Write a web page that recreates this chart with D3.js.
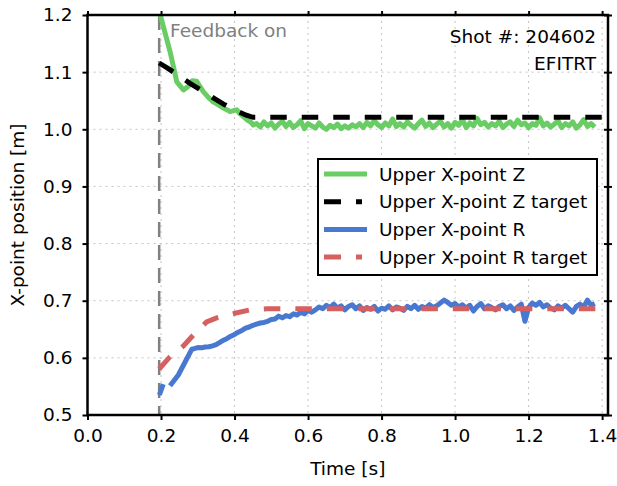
<!DOCTYPE html>
<html><head><meta charset="utf-8">
<script src="https://cdn.jsdelivr.net/npm/d3@7"></script>
<style>body{margin:0;background:#fff}svg text{font-family:"DejaVu Sans",sans-serif;}</style>
</head><body><svg id="c" width="617" height="486"></svg>
<script>
const xTicks = [0.0,0.2,0.4,0.6,0.8,1.0,1.2,1.4];
const yTicks = [0.5,0.6,0.7,0.8,0.9,1.0,1.1,1.2];
const feedbackOn = 0.195;
const seriesNames = ["Upper X-point Z","Upper X-point Z target","Upper X-point R","Upper X-point R target"];
const annotations = ["Shot #: 204602","EFITRT"];

// Upper X-point Z (measured)
const zTime = [0.196,0.2245,0.243,0.261,0.274,0.285,0.297,0.315,0.33,0.342,0.355,0.37,0.388,0.40,0.406,0.415,0.424,0.435,0.445,0.451,
0.46,0.47,0.48,0.49,0.50,0.51,0.52,0.53,0.54,0.55,0.56,0.57,0.58,0.59,0.60,0.61,0.62,0.63,0.64,0.65,0.66,0.67,0.68,0.69,0.70,
0.71,0.72,0.73,0.74,0.75,0.76,0.77,0.78,0.79,0.80,0.81,0.82,0.83,0.84,0.85,0.86,0.87,0.88,0.89,0.90,0.91,0.92,0.93,0.94,0.95,
0.96,0.97,0.98,0.99,1.00,1.01,1.02,1.03,1.04,1.05,1.06,1.07,1.08,1.09,1.10,1.11,1.12,1.13,1.14,1.15,1.16,1.17,1.18,1.19,1.20,
1.21,1.22,1.23,1.24,1.25,1.26,1.27,1.28,1.29,1.30,1.31,1.32,1.33,1.34,1.35,1.36,1.37,1.38];
const zValue = [1.205,1.136,1.083,1.069,1.075,1.085,1.084,1.066,1.055,1.048,1.043,1.037,1.031,1.033,1.034,1.027,1.022,1.016,1.012,1.0075,
1.010,1.004,1.013,1.006,1.011,1.002,1.009,1.014,1.005,1.012,1.003,1.008,1.015,1.001,1.010,1.006,1.002,1.011,1.004,1.000,1.007,1.003,1.009,1.001,1.006,
1.002,1.008,1.004,1.010,1.003,1.012,1.006,1.015,1.008,1.003,1.011,1.006,1.018,1.005,1.010,1.004,1.013,1.007,1.002,1.010,1.016,1.005,1.011,1.003,1.009,
1.014,1.004,1.010,1.002,1.012,1.007,1.017,1.003,1.011,1.006,1.019,1.008,1.012,1.004,1.010,1.006,1.014,1.003,1.009,1.013,1.005,1.016,1.008,1.011,1.003,
1.010,1.007,1.020,1.006,1.011,1.004,1.009,1.015,1.003,1.010,1.006,1.013,1.002,1.008,1.017,1.005,1.010,1.004];

// Upper X-point Z target
const zTargetTime = [0.195,0.22,0.25,0.28,0.31,0.34,0.37,0.40,0.43,0.45,1.42];
const zTargetValue = [1.116,1.106,1.093,1.080,1.068,1.056,1.044,1.034,1.025,1.021,1.021];

// Upper X-point R (measured); null marks a gap in the record
const rTime = [0.1955,0.206,0.215,0.2245,0.247,0.2835,0.29,0.30,0.31,0.32,0.33,0.34,0.35,0.36,0.37,0.38,0.39,0.40,0.41,0.42,0.43,0.44,0.45,
0.46,0.47,0.48,0.49,0.50,0.51,0.52,0.53,0.54,0.55,0.56,0.57,0.58,0.59,0.60,0.61,
0.62,0.63,0.64,0.65,0.66,0.67,0.68,0.69,0.70,0.71,0.72,0.73,0.74,0.75,0.76,0.77,0.78,0.79,0.80,0.81,0.82,0.83,0.84,0.85,0.86,0.87,0.88,0.89,0.90,
0.91,0.92,0.93,0.94,0.95,0.96,0.97,0.98,0.99,1.00,1.01,1.02,1.03,1.04,1.05,1.06,1.07,1.08,1.09,1.10,1.11,1.12,1.13,1.14,1.15,1.16,1.17,1.18,1.19,1.20,
1.21,1.22,1.23,1.24,1.25,1.26,1.27,1.28,1.29,1.30,1.31,1.32,1.33,1.34,1.35,1.36,1.37,1.38];
const rValue = [0.535,0.554,null,0.551,0.570,0.615,0.616,0.618,0.6175,0.619,0.6195,0.621,0.623,0.627,0.631,0.634,0.638,0.641,0.645,0.648,0.652,0.654,0.657,
0.659,0.661,0.662,0.664,0.667,0.668,0.673,0.670,0.674,0.672,0.677,0.675,0.680,0.677,0.683,0.680,
0.684,0.689,0.686,0.692,0.688,0.694,0.687,0.691,0.684,0.690,0.693,0.686,0.691,0.683,0.688,0.685,0.690,0.682,0.687,0.685,0.691,0.684,0.689,0.687,0.683,0.690,0.686,0.692,0.685,
0.690,0.687,0.693,0.688,0.691,0.696,0.701,0.697,0.692,0.695,0.689,0.693,0.687,0.692,0.682,0.690,0.695,0.686,0.691,0.688,0.684,0.690,0.693,0.686,0.691,0.683,0.689,0.694,0.664,0.688,
0.696,0.692,0.697,0.689,0.693,0.687,0.684,0.691,0.687,0.692,0.686,0.680,0.690,0.694,0.689,0.701,0.692,0.695];

// Upper X-point R target
const rTargetTime = [0.195,0.2245,0.261,0.288,0.324,0.3515,0.401,0.442,0.488,1.40];
const rTargetValue = [0.5805,0.602,0.621,0.640,0.663,0.670,0.678,0.684,0.686,0.686];

const colors = {green:"#6ACC64", blue:"#4878D0", red:"#D65F5F"};

const svg = d3.select("#c");
const L=87.5, R=608, T=15, B=415;
const x = d3.scaleLinear().domain([0,1.416]).range([L,R]);
const y = d3.scaleLinear().domain([0.5,1.2]).range([B,T]);
const FS = 18.5;

svg.append("defs").append("clipPath").attr("id","clip").append("rect")
  .attr("x",L).attr("y",T).attr("width",R-L).attr("height",B-T);

// grid
const grid = svg.append("g").attr("stroke","#c4c4c4").attr("stroke-width",1).attr("stroke-dasharray","2,4");
grid.selectAll(".gx").data(xTicks.filter(d=>d>0)).enter().append("line")
  .attr("x1",d=>x(d)).attr("x2",d=>x(d)).attr("y1",T).attr("y2",B);
grid.selectAll(".gy").data(yTicks.filter(d=>d>0.5&&d<1.2)).enter().append("line")
  .attr("y1",d=>y(d)).attr("y2",d=>y(d)).attr("x1",L).attr("x2",R);

const plot = svg.append("g").attr("clip-path","url(#clip)");
const line = d3.line().defined(d=>d[1]!==null).x(d=>x(d[0])).y(d=>y(d[1]));
const zip = (a,b)=>a.map((t,i)=>[t,b[i]]);

// feedback on line
plot.append("line").attr("x1",x(feedbackOn)).attr("x2",x(feedbackOn)).attr("y1",T).attr("y2",B)
  .attr("stroke","#808080").attr("stroke-width",2.5).attr("stroke-dasharray","15,8");

plot.append("path").attr("d",line(zip(zTime,zValue))).attr("fill","none")
  .attr("stroke",colors.green).attr("stroke-width",5).attr("stroke-linejoin","round");
plot.append("path").attr("d",line(zip(zTargetTime,zTargetValue))).attr("fill","none")
  .attr("stroke","#000").attr("stroke-width",5).attr("stroke-dasharray","16.5,15");
plot.append("path").attr("d",line(zip(rTime,rValue))).attr("fill","none")
  .attr("stroke",colors.blue).attr("stroke-width",5).attr("stroke-linejoin","round");
plot.append("path").attr("d",line(zip(rTargetTime,rTargetValue))).attr("fill","none")
  .attr("stroke",colors.red).attr("stroke-width",5).attr("stroke-dasharray","16.5,15");

// texts
svg.append("text").attr("x",170).attr("y",36.5).attr("font-size",FS).attr("fill","#808080").text("Feedback on");
svg.append("text").attr("x",596).attr("y",42.5).attr("font-size",FS).attr("text-anchor","end").text(annotations[0]);
svg.append("text").attr("x",596).attr("y",70).attr("font-size",FS).attr("text-anchor","end").text(annotations[1]);

// axes
svg.append("rect").attr("x",L).attr("y",T).attr("width",R-L).attr("height",B-T)
  .attr("fill","none").attr("stroke","#000").attr("stroke-width",2.5);
const axB = svg.append("g").attr("transform",`translate(0,${B})`)
  .call(d3.axisBottom(x).tickValues(xTicks).tickFormat(d3.format(".1f")).tickSize(5).tickPadding(9));
const axL = svg.append("g").attr("transform",`translate(${L},0)`)
  .call(d3.axisLeft(y).tickValues(yTicks).tickFormat(d3.format(".1f")).tickSize(5).tickPadding(10));
const axT = svg.append("g").attr("transform",`translate(0,${T})`)
  .call(d3.axisTop(x).tickValues(xTicks).tickFormat("").tickSize(4));
const axR = svg.append("g").attr("transform",`translate(${R},0)`)
  .call(d3.axisRight(y).tickValues(yTicks).tickFormat("").tickSize(4));
[axB,axL,axT,axR].forEach(g=>{
  g.select(".domain").remove();
  g.selectAll(".tick line").attr("stroke","#000").attr("stroke-width",2);
  g.selectAll(".tick text").attr("font-size",FS).attr("font-family","DejaVu Sans").attr("fill","#000");
});
axR.selectAll(".tick line").attr("x1",-4);

svg.append("text").attr("x",(L+R)/2).attr("y",475).attr("text-anchor","middle").attr("font-size",FS).text("Time [s]");
svg.append("text").attr("transform",`translate(24,${(T+B)/2}) rotate(-90)`).attr("text-anchor","middle")
  .attr("font-size",FS).text("X-point position [m]");

// legend
const lg = svg.append("g");
lg.append("rect").attr("x",318).attr("y",159).attr("width",279).attr("height",116)
  .attr("fill","#fff").attr("stroke","#000").attr("stroke-width",2);
const styles = [
  {c:colors.green,d:null,e:367},{c:"#000",d:"17,15",e:362},{c:colors.blue,d:null,e:367},{c:colors.red,d:"17,15",e:362}];
seriesNames.forEach((n,i)=>{
  const cy = 174 + i*27.7;
  lg.append("line").attr("x1",324).attr("x2",styles[i].e).attr("y1",cy).attr("y2",cy)
    .attr("stroke",styles[i].c).attr("stroke-width",5)
    .attr("stroke-dasharray",styles[i].d);
  lg.append("text").attr("x",379).attr("y",cy+6.5).attr("font-size",FS).text(n);
});
</script></body></html>
